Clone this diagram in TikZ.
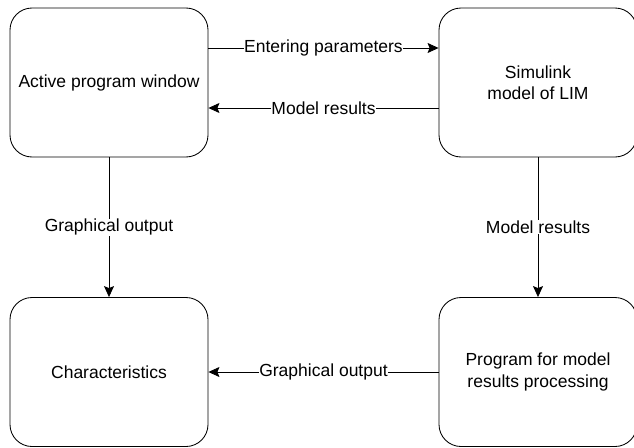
\documentclass[tikz,border=0pt]{standalone}
\usepackage{fontspec}
\setmainfont{Liberation Sans}
\usetikzlibrary{arrows.meta}

\begin{document}
\begin{tikzpicture}[x=1pt,y=-1pt,
    block/.style={draw, line width=0.85pt, rounded corners=22pt, align=center,
        minimum width=198pt, minimum height=149pt, font=\fontsize{17.5}{21.5}\selectfont},
    flow/.style={line width=0.85pt, -{Stealth[length=11pt,width=10pt,inset=2pt]}},
    lbl/.style={fill=white, inner sep=0.5pt, font=\fontsize{17.5}{21.5}\selectfont}]
    \useasboundingbox (0,0) rectangle (634,447);
    % Boxes
    \node[block] (active) at (109,82.5) {Active program window};
    \node[block] (simulink) at (538,82.5) {Simulink\\model of LIM};
    \node[block] (charac) at (109,372) {Characteristics};
    \node[block] (proc) at (538,372) {Program for model\\results processing};
    % Between the two upper boxes
    \draw[flow] ([yshift=34.5pt]active.east) -- node[lbl] {Entering parameters} ([yshift=34.5pt]simulink.west);
    \draw[flow] ([yshift=-25.5pt]simulink.west) -- node[lbl] {Model results} ([yshift=-25.5pt]active.east);
    % Downwards
    \draw[flow] (active) -- node[lbl] {Graphical output} (charac);
    \draw[flow] (simulink) -- node[lbl] {Model results} (proc);
    % Bottom
    \draw[flow] (proc) -- node[lbl] {Graphical output} (charac);
\end{tikzpicture}
\end{document}
